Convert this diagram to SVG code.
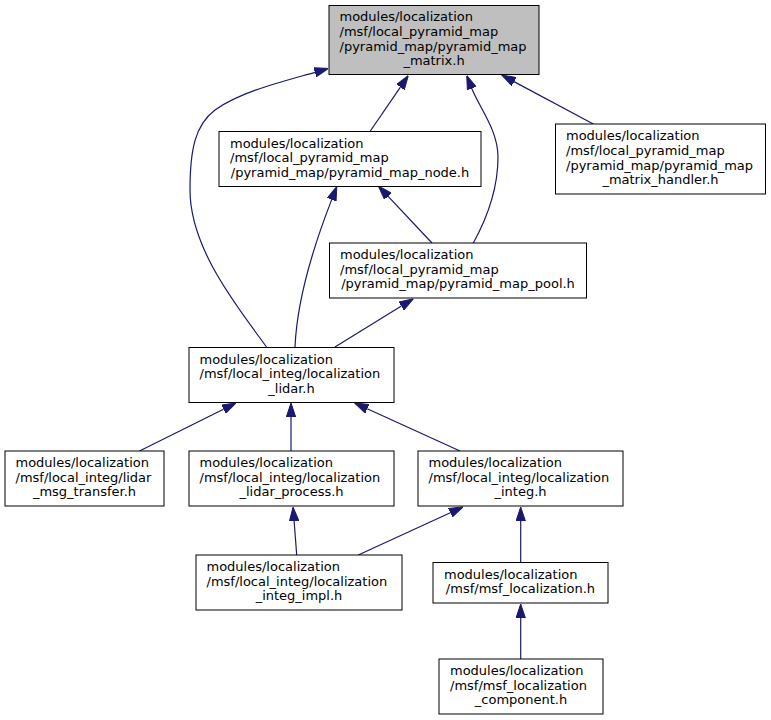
<svg xmlns="http://www.w3.org/2000/svg" width="771" height="720" viewBox="0 0 771 720">
<style>
.n rect{fill:#ffffff;stroke:#000000;stroke-width:1}
.n.hl rect{fill:#bfbfbf}
.n text{font-family:"DejaVu Sans","Liberation Sans",sans-serif;font-size:13px;fill:#000000}
.n text.c{text-anchor:middle}
.e path{fill:none;stroke:#191970;stroke-width:1.2;marker-end:url(#ah)}
</style>
<defs>
<marker id="ah" markerUnits="userSpaceOnUse" viewBox="0 -5 14 10" markerWidth="14" markerHeight="10" refX="0" refY="0" orient="auto">
<path d="M0,-4.7 L14,0 L0,4.7 Z" fill="#191970" stroke="#191970" stroke-width="1"/>
</marker>
</defs>
<rect width="771" height="720" fill="#ffffff"/>
<g id="edges" class="e">
<path d="M266.5,347 C240,310 190,250 190,190 C190,150 195,125 215,110 C240,92 281,82 315,72.3"/>
<path d="M370,131.5 L400.4,87.1"/>
<path d="M473.3,243 C486,220 498,190 498,157 C498,130 479,107 471.8,88.5"/>
<path d="M593.3,124 L514,81.6"/>
<path d="M432,243 L387.9,196.2"/>
<path d="M295,347 C297,300 314,245 331.7,199.6"/>
<path d="M335,347 L401.4,306.1"/>
<path d="M139.5,451 L223.5,409.2"/>
<path d="M291,451 L291,417"/>
<path d="M460,451 L367.2,408.8"/>
<path d="M296.7,555 L294.1,521"/>
<path d="M358.3,555 L450.3,512.8"/>
<path d="M520.7,562 L520.7,521"/>
<path d="M520.7,659 L520.7,618"/>
</g>
<g id="node_matrix" class="n hl">
<rect x="329" y="5.5" width="210" height="69"/>
<text x="339.5" y="21.3">modules/localization</text>
<text x="339.5" y="35.9">/msf/local_pyramid_map</text>
<text x="339.5" y="50.5">/pyramid_map/pyramid_map</text>
<text class="c" x="434" y="65.1">_matrix.h</text>
</g>
<g id="node_node" class="n">
<rect x="219" y="131.5" width="262" height="55"/>
<text x="230" y="147.6">modules/localization</text>
<text x="230" y="162.2">/msf/local_pyramid_map</text>
<text class="c" x="350" y="176.8">/pyramid_map/pyramid_map_node.h</text>
</g>
<g id="node_handler" class="n">
<rect x="555.5" y="124" width="210" height="70"/>
<text x="566" y="140.3">modules/localization</text>
<text x="566" y="154.9">/msf/local_pyramid_map</text>
<text x="566" y="169.5">/pyramid_map/pyramid_map</text>
<text class="c" x="660.5" y="184.1">_matrix_handler.h</text>
</g>
<g id="node_pool" class="n">
<rect x="329.5" y="243" width="257" height="55"/>
<text x="340" y="259.1">modules/localization</text>
<text x="340" y="273.7">/msf/local_pyramid_map</text>
<text class="c" x="458" y="288.3">/pyramid_map/pyramid_map_pool.h</text>
</g>
<g id="node_lidar" class="n">
<rect x="189" y="347.5" width="205" height="55"/>
<text x="199.5" y="363.6">modules/localization</text>
<text x="199.5" y="378.2">/msf/local_integ/localization</text>
<text class="c" x="291.5" y="392.8">_lidar.h</text>
</g>
<g id="node_msg_transfer" class="n">
<rect x="5" y="451" width="159" height="55"/>
<text x="15.5" y="467.1">modules/localization</text>
<text x="15.5" y="481.7">/msf/local_integ/lidar</text>
<text class="c" x="84.5" y="496.3">_msg_transfer.h</text>
</g>
<g id="node_lidar_process" class="n">
<rect x="189" y="451" width="205" height="55"/>
<text x="199.5" y="467.1">modules/localization</text>
<text x="199.5" y="481.7">/msf/local_integ/localization</text>
<text class="c" x="291.5" y="496.3">_lidar_process.h</text>
</g>
<g id="node_integ" class="n">
<rect x="418" y="451" width="205" height="55"/>
<text x="428.5" y="467.1">modules/localization</text>
<text x="428.5" y="481.7">/msf/local_integ/localization</text>
<text class="c" x="520.5" y="496.3">_integ.h</text>
</g>
<g id="node_integ_impl" class="n">
<rect x="196" y="555" width="206" height="55"/>
<text x="206.5" y="571.1">modules/localization</text>
<text x="206.5" y="585.7">/msf/local_integ/localization</text>
<text class="c" x="299" y="600.3">_integ_impl.h</text>
</g>
<g id="node_msf_localization" class="n">
<rect x="433" y="562.5" width="175" height="40.5"/>
<text x="444" y="578.7">modules/localization</text>
<text class="c" x="520.5" y="593.3">/msf/msf_localization.h</text>
</g>
<g id="node_component" class="n">
<rect x="439" y="659" width="164" height="55"/>
<text x="450" y="675.1">modules/localization</text>
<text x="450" y="689.7">/msf/msf_localization</text>
<text class="c" x="521" y="704.3">_component.h</text>
</g>
</svg>
